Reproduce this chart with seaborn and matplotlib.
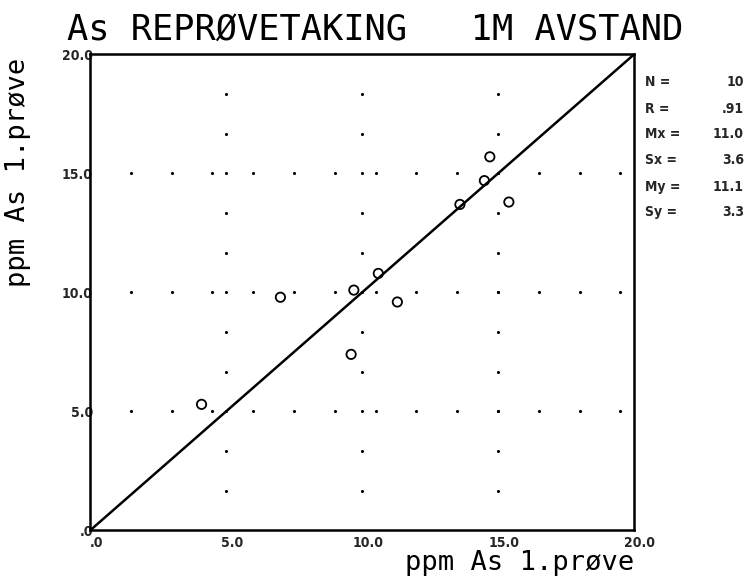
import matplotlib
matplotlib.use("Agg")
import matplotlib.pyplot as plt
import matplotlib.transforms as mtransforms
import seaborn as sns
import pandas as pd
import numpy as np

# ---- data ----
first_sample = [4.1, 7.0, 9.7, 9.6, 10.6, 11.3, 13.6, 14.5, 14.7, 15.4]
second_sample = [5.3, 9.8, 10.1, 7.4, 10.8, 9.6, 13.7, 14.7, 15.7, 13.8]
line_x = [0.0, 20.0]
line_y = [0.0, 20.0]
tick_values = [0, 5, 10, 15, 20]
tick_labels = [".0", "5.0", "10.0", "15.0", "20.0"]
grid_cols = [5, 10, 15]
grid_rows = [5, 10, 15]
col_dot_positions = [1.67, 3.33, 5.0, 6.67, 8.33, 10.0, 11.67, 13.33, 15.0, 16.67, 18.33]
row_dot_positions = [1.5, 3.0, 4.5, 6.0, 7.5, 9.0, 10.5, 12.0, 13.5, 15.0, 16.5, 18.0, 19.5]
stat_names = ["N =", "R =", "Mx =", "Sx =", "My =", "Sy ="]
stat_values = ["10", ".91", "11.0", "3.6", "11.1", "3.3"]
title = "As REPRØVETAKING   1M AVSTAND"
xlabel = "ppm As 1.prøve"
ylabel = "ppm As 1.prøve"

sns.set_style("white")
plt.rcParams["font.family"] = ["DejaVu Sans Mono", "DejaVu Sans"]

fig = plt.figure(figsize=(7.54, 5.79), dpi=100)
ax = fig.add_axes([0.1194, 0.0838, 0.7214, 0.8221])

# dotted grid
gx, gy = [], []
for c in grid_cols:
    for p in col_dot_positions:
        gx.append(c); gy.append(p)
for r in grid_rows:
    for p in row_dot_positions:
        gx.append(p); gy.append(r)
ax.scatter(gx, gy, s=5, color="black", linewidths=0, zorder=1)

# 1:1 line
ax.plot(line_x, line_y, color="black", lw=1.8, zorder=2)

df = pd.DataFrame({"x": first_sample, "y": second_sample})
sns.scatterplot(data=df, x="x", y="y", ax=ax, marker="o", s=45,
                facecolor="none", edgecolor="black", linewidth=1.3, zorder=3)

ax.set_xlim(0, 20)
ax.set_ylim(0, 20)
ax.set_xticks(tick_values)
ax.set_xticklabels(tick_labels)
ax.set_yticks(tick_values)
ax.set_yticklabels(tick_labels)
ax.tick_params(length=0)
ax.tick_params(axis="x", pad=4)
ax.tick_params(axis="y", pad=-2)
for lab in ax.get_xticklabels() + ax.get_yticklabels():
    lab.set_fontfamily("DejaVu Sans")
    lab.set_fontweight("bold")
    lab.set_fontsize(10)
    lab.set_fontstretch("condensed")
off = mtransforms.ScaledTranslation(6 / 100, 0, fig.dpi_scale_trans)
for lab in ax.get_xticklabels():
    lab.set_transform(lab.get_transform() + off)
ax.set_xlabel("")
ax.set_ylabel("")
for s in ax.spines.values():
    s.set_color("black")
    s.set_linewidth(1.8)

fig.text(375 / 754, 1 - 30 / 579, title, ha="center", va="center",
         fontsize=25.5, family="DejaVu Sans Mono", color="black")
fig.text(634 / 754, 1 - 563 / 579, xlabel, ha="right", va="center",
         fontsize=19.5, family="DejaVu Sans Mono", color="black")
fig.text(18 / 754, 1 - 172 / 579, ylabel, ha="center", va="center",
         rotation=90, fontsize=19.5, family="DejaVu Sans Mono", color="black")

ys = [82, 109, 134, 160, 187, 212]
for name, val, yy in zip(stat_names, stat_values, ys):
    fig.text(645 / 754, 1 - yy / 579, name, ha="left", va="center",
             fontsize=10, family="DejaVu Sans", fontweight="bold",
             fontstretch="condensed")
    fig.text(744 / 754, 1 - yy / 579, val, ha="right", va="center",
             fontsize=10, family="DejaVu Sans", fontweight="bold",
             fontstretch="condensed")

fig.savefig("out.png", dpi=100)
